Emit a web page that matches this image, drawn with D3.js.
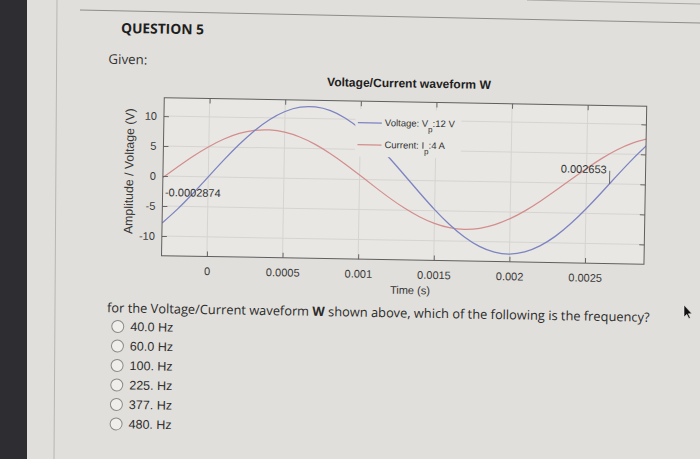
<!DOCTYPE html>
<html><head><meta charset="utf-8">
<script src="https://cdn.jsdelivr.net/npm/d3@7"></script>
<style>body{margin:0;background:#e1dfdb;overflow:hidden}svg{display:block}</style>
</head><body><svg id="c" width="700" height="459"></svg>
<script>
// ---- data ----
const times = [-0.0003,-0.0002,-0.0001,0,0.0001,0.0002,0.0003,0.0004,0.0005,0.0006,0.0007,0.0008,0.0009,0.001,0.0011,0.0012,0.0013,0.0014,0.0015,0.0016,0.0017,0.0018,0.0019,0.002,0.0021,0.0022,0.0023,0.0024,0.0025,0.0026,0.0027,0.0028,0.0029];
const voltage = [-7.83,-5.47,-2.82,0,2.82,5.47,7.83,9.74,11.11,11.87,11.95,11.38,10.16,8.38,6.13,3.54,0.75,-2.08,-4.80,-7.24,-9.29,-10.81,-11.73,-12.00,-11.59,-10.54,-8.91,-6.77,-4.25,-1.50,1.34,4.10,6.63];
const current = [-0.24,1.64,3.44,5.03,6.35,7.32,7.87,7.99,7.66,6.90,5.76,4.29,2.59,0.74,-1.15,-2.98,-4.64,-6.04,-7.10,-7.77,-8.00,-7.79,-7.14,-6.09,-4.71,-3.06,-1.24,0.65,2.50,4.22,5.70,6.85,7.63];
const xTicks = [0,0.0005,0.001,0.0015,0.002,0.0025];
const xTickLabels = ["0","0.0005","0.001","0.0015","0.002","0.0025"];
const yTicks = [-10,-5,0,5,10];
const yTickLabels = ["-10","-5","0","5","10"];
const annotations = [{t:-0.0002874,label:"-0.0002874"},{t:0.002653,label:"0.002653"}];
const legendItems = [{label:"Voltage: V",sub:"p",tail:":12 V"},{label:"Current: I",sub:"p",tail:":4 A"}];
const chartTitle = "Voltage/Current waveform W";
const xLabel = "Time (s)";
const yLabel = "Amplitude / Voltage (V)";
const options = ["40.0 Hz","60.0 Hz","100. Hz","225. Hz","377. Hz","480. Hz"];

// ---- styles ----
const BLUE = "#7d84c2", RED = "#d38d8c";
const PAGE = "#e1dfdb", PLOTBG = "#e8e7e4";
const CF = "'Liberation Sans', Arial, sans-serif";
const OS = "'Open Sans', 'Noto Sans', sans-serif";

const svg = d3.select("#c");
svg.append("rect").attr("width",700).attr("height",459).attr("fill",PAGE);
svg.append("rect").attr("x",0).attr("y",0).attr("width",27).attr("height",459).attr("fill","#2d2d32");
svg.append("line").attr("x1",57).attr("y1",0).attr("x2",54).attr("y2",459).attr("stroke","#b8b6b2");
svg.append("line").attr("x1",80).attr("y1",10).attr("x2",700).attr("y2",23).attr("stroke","#8e8c88");
svg.append("line").attr("x1",527).attr("y1",0).attr("x2",700).attr("y2",4).attr("stroke","#a9a7a3");

const g = svg.append("g").attr("transform","rotate(1 350 230)");

function fit(sel, w){
  const l = sel.node().getComputedTextLength();
  const fs = parseFloat(sel.attr("font-size"));
  if (l > 0) sel.attr("font-size", fs*w/l);
  return sel;
}

// header texts
fit(g.append("text").attr("x",117.5).attr("y",37).attr("font-family",OS).attr("font-weight",700)
  .attr("font-size",15).attr("fill","#1e1e1e").text("QUESTION 5"), 83);
fit(g.append("text").attr("x",105.5).attr("y",68).attr("font-family",OS)
  .attr("font-size",14).attr("fill","#333").text("Given:"), 39);

// ---- chart ----
const L=162, R=644.5, T=101, B=259;
const x = d3.scaleLinear().domain([-0.0003,0.00289]).range([L,R]);
const y = d3.scaleLinear().domain([-13.28,13.05]).range([B,T]);

fit(g.append("text").attr("x",406.4).attr("y",86.5).attr("text-anchor","middle").attr("font-family",CF)
  .attr("font-weight",700).attr("font-size",12).attr("fill","#1e1e1e").text(chartTitle), 164);

g.append("rect").attr("x",L).attr("y",T).attr("width",R-L).attr("height",B-T).attr("fill",PLOTBG);

// grid
g.append("g").selectAll("line").data(xTicks).join("line")
  .attr("x1",d=>x(d)).attr("x2",d=>x(d)).attr("y1",T).attr("y2",B)
  .attr("stroke","#d6d4d0").attr("stroke-width",1);
g.append("g").selectAll("line").data(yTicks).join("line")
  .attr("x1",L).attr("x2",R).attr("y1",d=>y(d)).attr("y2",d=>y(d))
  .attr("stroke","#d6d4d0").attr("stroke-width",1);

svg.append("defs").append("clipPath").attr("id","clip").append("rect")
  .attr("x",L).attr("y",T).attr("width",R-L).attr("height",B-T);

const line = d3.line().x((d,i)=>x(times[i])).y(d=>y(d)).curve(d3.curveNatural);
const plot = g.append("g").attr("clip-path","url(#clip)");
plot.append("path").datum(current).attr("d",line).attr("fill","none").attr("stroke",RED).attr("stroke-width",1.2);
plot.append("path").datum(voltage).attr("d",line).attr("fill","none").attr("stroke",BLUE).attr("stroke-width",1.3);

// axes (ticks inside, mirrored)
function styleAxis(ax){
  ax.select(".domain").remove();
  ax.selectAll(".tick line").attr("stroke","#666");
  ax.selectAll("text").attr("font-family",CF).attr("font-size",11).attr("fill","#3a3a3a");
}
g.append("g").attr("transform",`translate(0,${B})`)
  .call(d3.axisBottom(x).tickValues(xTicks).tickFormat((d,i)=>xTickLabels[i]).tickSizeInner(-5).tickSizeOuter(0).tickPadding(10.7))
  .call(styleAxis);
g.append("g").attr("transform",`translate(0,${T})`)
  .call(d3.axisTop(x).tickValues(xTicks).tickFormat("").tickSizeInner(-5).tickSizeOuter(0))
  .call(styleAxis);
g.append("g").attr("transform",`translate(${L},0)`)
  .call(d3.axisLeft(y).tickValues(yTicks).tickFormat((d,i)=>yTickLabels[i]).tickSizeInner(-5).tickSizeOuter(0).tickPadding(7))
  .call(styleAxis);
g.append("g").attr("transform",`translate(${R},0)`)
  .call(d3.axisRight(y).tickValues(yTicks).tickFormat("").tickSizeInner(-5).tickSizeOuter(0))
  .call(styleAxis);

// legend (opaque box)
const lg = g.append("g");
lg.append("rect").attr("x",353.5).attr("y",109).attr("width",106).attr("height",47.5).attr("fill",PLOTBG);
const legColors = [BLUE, RED];
legendItems.forEach((it,i)=>{
  const yy = 122.5 + i*22;
  lg.append("line").attr("x1",356).attr("x2",380).attr("y1",yy).attr("y2",yy)
    .attr("stroke",legColors[i]).attr("stroke-width",1.3);
  const t = lg.append("text").attr("x",383).attr("y",yy+3).attr("font-family",CF)
    .attr("font-size",9.5).attr("fill","#333");
  t.append("tspan").text(it.label);
  t.append("tspan").attr("dy",5.5).attr("font-size",8).text(it.sub);
  t.append("tspan").attr("dy",-5.5).text(it.tail);
});

// frame
g.append("rect").attr("x",L).attr("y",T).attr("width",R-L).attr("height",B-T)
  .attr("fill","none").attr("stroke","#5f5f5f").attr("stroke-width",1);

// annotations
g.append("text").attr("x",x(annotations[0].t)+0.5).attr("y",y(0)+20)
  .attr("font-family",CF).attr("font-size",11).attr("fill","#333").text(annotations[0].label);
g.append("line").attr("x1",x(annotations[1].t)).attr("x2",x(annotations[1].t))
  .attr("y1",y(0)-13).attr("y2",y(0)).attr("stroke","#555").attr("stroke-width",0.8);
g.append("text").attr("x",x(annotations[1].t)-3).attr("y",y(0)-10.5).attr("text-anchor","end")
  .attr("font-family",CF).attr("font-size",11).attr("fill","#333").text(annotations[1].label);

// axis titles
g.append("text").attr("x",411).attr("y",293).attr("text-anchor","middle").attr("font-family",CF)
  .attr("font-size",11).attr("fill","#333").text(xLabel);
fit(g.append("text").attr("transform","translate(128,175) rotate(-90)").attr("dy","0.35em")
  .attr("text-anchor","middle").attr("font-family",CF).attr("font-size",12).attr("fill","#3a3a3a").text(yLabel), 126);

// question text
const q = g.append("text").attr("x",108.5).attr("y",316.5).attr("font-family",OS).attr("font-size",13).attr("fill","#2a2a2a");
q.append("tspan").text("for the Voltage/Current waveform ");
q.append("tspan").attr("font-weight",700).text("W");
q.append("tspan").text(" shown above, which of the following is the frequency?");
fit(q, 543);

// options
const og = g.append("g");
options.forEach((o,i)=>{
  const cy = 330.5 + i*19.5;
  og.append("circle").attr("cx",119.5).attr("cy",cy).attr("r",6)
    .attr("fill","#efeeeb").attr("stroke","#8a8a8a").attr("stroke-width",1);
  og.append("text").attr("x",132).attr("y",cy+4.3).attr("font-family",CF).attr("font-size",12.5)
    .attr("fill","#2e2e2e").text(o);
});

// mouse cursor
svg.append("path").attr("d","M684,305 L684,317 L686.8,314.4 L688.8,318.6 L690.4,317.9 L688.4,313.8 L692,313.8 Z")
  .attr("fill","#111").attr("stroke","#eee").attr("stroke-width",0.6);
</script></body></html>
